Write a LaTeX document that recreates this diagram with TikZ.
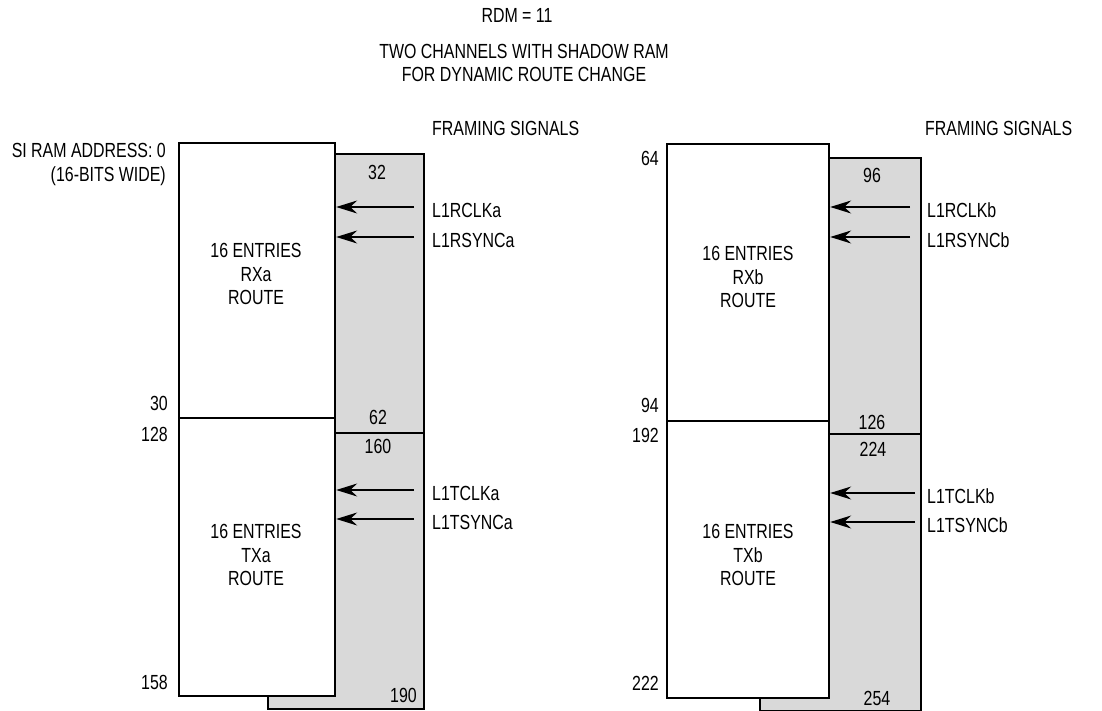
\documentclass[tikz,border=0pt]{standalone}
\usepackage{fontspec}
\setmainfont[FakeStretch=0.78]{Liberation Sans}
\usetikzlibrary{arrows.meta}
\begin{document}
\begin{tikzpicture}[x=1bp,y=-1bp,
  txt/.style={inner sep=0pt, font=\fontsize{20.5}{24}\selectfont, align=center},
  num/.style={inner sep=0pt, font=\fontsize{20.5}{24}\selectfont, text height=14.7bp, text depth=0bp},
  whitebox/.style={draw=black, fill=white, line width=2.2bp, inner sep=0pt, anchor=north west},
  graybox/.style={draw=black, fill=gray!30, line width=2.2bp, inner sep=0pt, anchor=north west},
  sig/.style={line width=1.1bp, -{Stealth[length=21bp,width=13bp,inset=7bp]}},
]
\useasboundingbox (0,0) rectangle (1102,711);

% titles
\node[num] (rdm) at (517,15) {RDM = 11};
\node[txt] (title) at (524,63) {TWO CHANNELS WITH SHADOW RAM\\FOR DYNAMIC ROUTE CHANGE};

% ---------- left channel ----------
\node[graybox, minimum width=156bp, minimum height=279bp] (gra) at (267,153) {};
\node[graybox, minimum width=156bp, minimum height=276bp] (gta) at (267,432) {};
\node[whitebox, minimum width=156bp, minimum height=275bp] (rxa) at (178,142) {};
\node[whitebox, minimum width=156bp, minimum height=278bp] (txa) at (178,417) {};

\node[txt] (rxat) at (256,274) {16 ENTRIES\\RXa\\ROUTE};
\node[txt] (txat) at (256,555) {16 ENTRIES\\TXa\\ROUTE};

\node[num] (n32) at (377,172) {32};
\node[num] (n62) at (378,417) {62};
\node[num] (n160) at (378,446) {160};
\node[num, anchor=east] (n190) at (417,695) {190};

\node[num, anchor=east] (addr) at (166,150) {SI RAM ADDRESS: 0};
\node[num, anchor=east] (wide) at (166,174) {(16-BITS WIDE)};
\node[num, anchor=east] (n30) at (168,403) {30};
\node[num, anchor=east] (n128) at (168,434) {128};
\node[num, anchor=east] (n158) at (168,682) {158};

\node[num, anchor=west] (fsa) at (432,128) {FRAMING SIGNALS};
\node[num, anchor=west] (la1) at (432,210) {L1RCLKa};
\node[num, anchor=west] (la2) at (432,240) {L1RSYNCa};
\node[num, anchor=west] (la3) at (432,493) {L1TCLKa};
\node[num, anchor=west] (la4) at (432,522) {L1TSYNCa};

\coordinate (sa1) at (414,207);
\coordinate (sa2) at (414,237);
\coordinate (sa3) at (414,490);
\coordinate (sa4) at (414,519);
\draw[sig] (sa1) -- (sa1 -| rxa.east);
\draw[sig] (sa2) -- (sa2 -| rxa.east);
\draw[sig] (sa3) -- (sa3 -| txa.east);
\draw[sig] (sa4) -- (sa4 -| txa.east);

% ---------- right channel ----------
\node[graybox, minimum width=161bp, minimum height=276bp] (grb) at (759,157) {};
\node[graybox, minimum width=161bp, minimum height=277bp] (gtb) at (759,433) {};
\node[whitebox, minimum width=162bp, minimum height=277bp] (rxb) at (666,143) {};
\node[whitebox, minimum width=162bp, minimum height=277bp] (txb) at (666,420) {};

\node[txt] (rxbt) at (748,277) {16 ENTRIES\\RXb\\ROUTE};
\node[txt] (txbt) at (748,555) {16 ENTRIES\\TXb\\ROUTE};

\node[num] (n96) at (872,175) {96};
\node[num] (n126) at (872,422) {126};
\node[num] (n224) at (873,449) {224};
\node[num] (n254) at (877,698) {254};

\node[num, anchor=east] (n64) at (659,158) {64};
\node[num, anchor=east] (n94) at (659,405) {94};
\node[num, anchor=east] (n192) at (659,435) {192};
\node[num, anchor=east] (n222) at (659,683) {222};

\node[num, anchor=west] (fsb) at (925,128) {FRAMING SIGNALS};
\node[num, anchor=west] (lb1) at (927,210) {L1RCLKb};
\node[num, anchor=west] (lb2) at (927,240) {L1RSYNCb};
\node[num, anchor=west] (lb3) at (927,496) {L1TCLKb};
\node[num, anchor=west] (lb4) at (927,525) {L1TSYNCb};

\coordinate (sb1) at (910,207);
\coordinate (sb2) at (910,237);
\coordinate (sb3) at (915,493);
\coordinate (sb4) at (915,522);
\draw[sig] (sb1) -- (sb1 -| rxb.east);
\draw[sig] (sb2) -- (sb2 -| rxb.east);
\draw[sig] (sb3) -- (sb3 -| txb.east);
\draw[sig] (sb4) -- (sb4 -| txb.east);
\end{tikzpicture}
\end{document}
